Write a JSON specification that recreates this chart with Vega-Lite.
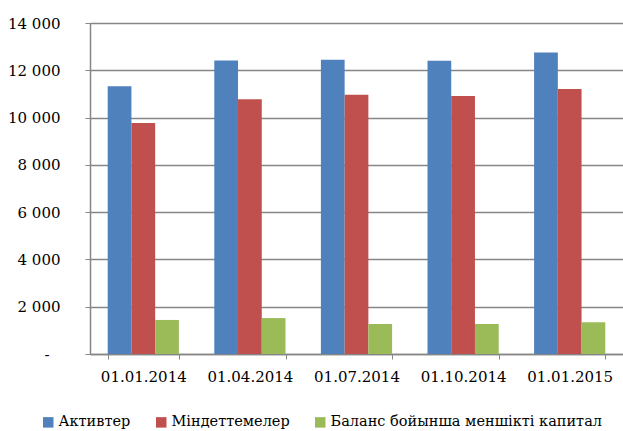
{
  "$schema": "https://vega.github.io/schema/vega-lite/v6.json",
  "width": 533,
  "height": 331,
  "autosize": "none",
  "padding": {"left": 90, "top": 23, "right": 0, "bottom": 77},
  "background": "white",
  "config": {
    "view": {"stroke": null},
    "font": "DejaVu Serif"
  },
  "data": {
    "values": [
      {"date": "01.01.2014", "series": "Активтер", "value": 11320},
      {"date": "01.01.2014", "series": "Міндеттемелер", "value": 9770},
      {"date": "01.01.2014", "series": "Баланс бойынша меншікті капитал", "value": 1440},
      {"date": "01.04.2014", "series": "Активтер", "value": 12410},
      {"date": "01.04.2014", "series": "Міндеттемелер", "value": 10770},
      {"date": "01.04.2014", "series": "Баланс бойынша меншікті капитал", "value": 1520},
      {"date": "01.07.2014", "series": "Активтер", "value": 12450},
      {"date": "01.07.2014", "series": "Міндеттемелер", "value": 10960},
      {"date": "01.07.2014", "series": "Баланс бойынша меншікті капитал", "value": 1270},
      {"date": "01.10.2014", "series": "Активтер", "value": 12400},
      {"date": "01.10.2014", "series": "Міндеттемелер", "value": 10910},
      {"date": "01.10.2014", "series": "Баланс бойынша меншікті капитал", "value": 1270},
      {"date": "01.01.2015", "series": "Активтер", "value": 12750},
      {"date": "01.01.2015", "series": "Міндеттемелер", "value": 11210},
      {"date": "01.01.2015", "series": "Баланс бойынша меншікті капитал", "value": 1340}
    ]
  },
  "mark": {"type": "bar"},
  "encoding": {
    "x": {
      "field": "date",
      "type": "nominal",
      "sort": null,
      "scale": {"paddingInner": 0.332, "paddingOuter": 0.166},
      "axis": {
        "title": null,
        "labelAngle": 0,
        "labelFont": "DejaVu Serif",
        "labelFontSize": 15,
        "labelColor": "#000000",
        "labelPadding": 10,
        "tickBand": "extent",
        "tickSize": 5,
        "tickColor": "#868686",
        "domainColor": "#868686",
        "domainWidth": 1.5,
        "grid": false
      }
    },
    "xOffset": {
      "field": "series",
      "type": "nominal",
      "sort": ["Активтер", "Міндеттемелер", "Баланс бойынша меншікті капитал"],
      "scale": {"paddingInner": 0, "paddingOuter": 0}
    },
    "y": {
      "field": "value",
      "type": "quantitative",
      "scale": {"domain": [0, 14000], "nice": false},
      "axis": {
        "title": null,
        "values": [0, 2000, 4000, 6000, 8000, 10000, 12000, 14000],
        "labelExpr": "datum.value == 0 ? '-\u2800' : replace(format(datum.value, ','), ',', ' ')",
        "labelFont": "DejaVu Serif",
        "labelFontSize": 15,
        "labelColor": "#000000",
        "labelPadding": 25,
        "tickSize": 5,
        "tickColor": "#868686",
        "domainColor": "#868686",
        "domainWidth": 1.5,
        "gridColor": "#868686",
        "gridWidth": 1.5
      }
    },
    "color": {
      "field": "series",
      "type": "nominal",
      "sort": ["Активтер", "Міндеттемелер", "Баланс бойынша меншікті капитал"],
      "scale": {
        "domain": ["Активтер", "Міндеттемелер", "Баланс бойынша меншікті капитал"],
        "range": ["#4F81BD", "#C0504D", "#9BBB59"]
      },
      "legend": {
        "title": null,
        "orient": "none",
        "direction": "horizontal",
        "legendX": -49,
        "legendY": 392,
        "symbolType": "square",
        "symbolSize": 110,
        "symbolStrokeWidth": 0,
        "symbolOpacity": 1,
        "labelFont": "DejaVu Serif",
        "labelFontSize": 14.5,
        "labelColor": "#000000",
        "labelOffset": 3,
        "columnPadding": 23,
        "labelLimit": 400
      }
    }
  }
}
